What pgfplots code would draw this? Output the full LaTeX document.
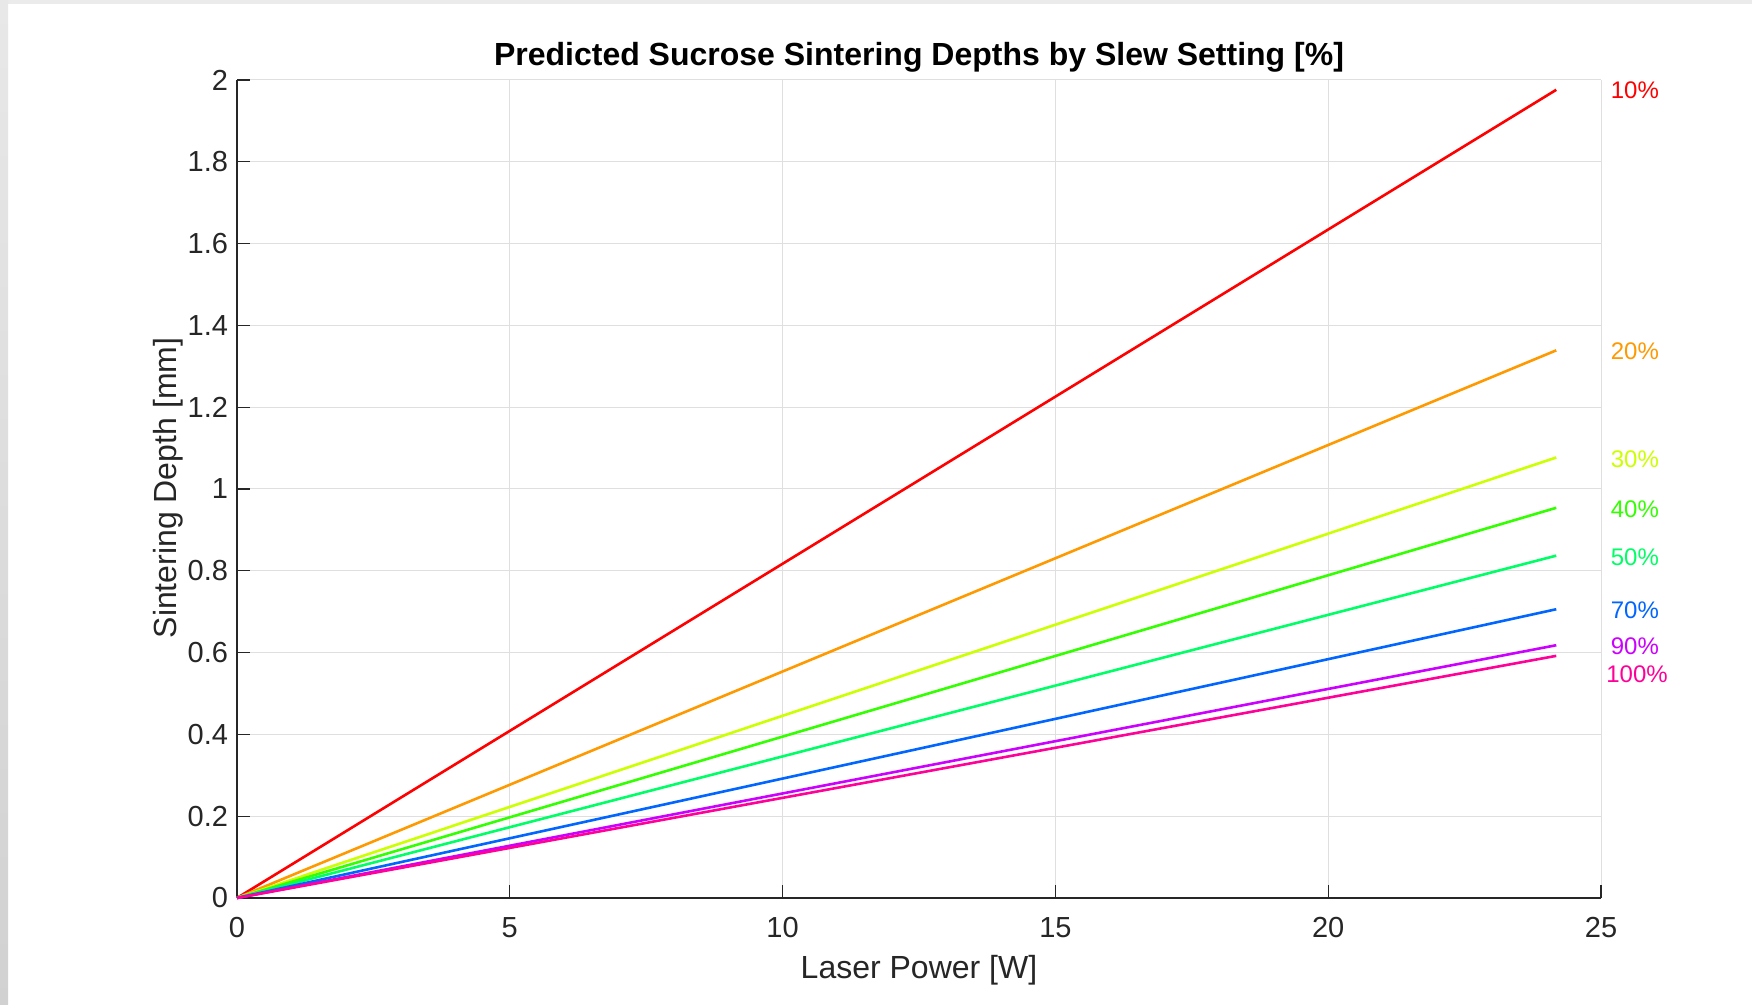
\documentclass[border=0pt]{standalone}
\usepackage{pgfplots}
\pgfplotsset{compat=1.18}
\usepackage{fontspec}
\setmainfont{Liberation Sans}
\definecolor{txt}{HTML}{262626}
\definecolor{gridc}{HTML}{DFDFDF}
\definecolor{c10}{HTML}{FF0000}
\definecolor{c20}{HTML}{FF9900}
\definecolor{c30}{HTML}{CCFF00}
\definecolor{c40}{HTML}{33FF00}
\definecolor{c50}{HTML}{00FF66}
\definecolor{c70}{HTML}{0066FF}
\definecolor{c90}{HTML}{CC00FF}
\definecolor{c100}{HTML}{FF0099}
\begin{document}
\begin{tikzpicture}
\useasboundingbox (0,0) rectangle (876pt,502.5pt);
\fill[white] (0,0) rectangle (876pt,502.5pt);
\fill[black!8] (0,500.5pt) rectangle (876pt,502.5pt);
\shade[top color=black!9, bottom color=black!18] (0,0) rectangle (4pt,502.5pt);
\begin{axis}[
  at={(118.5pt,53.5pt)}, anchor=south west,
  scale only axis, width=682pt, height=409pt,
  xmin=0, xmax=25, ymin=0, ymax=2,
  xtick={0,5,10,15,20,25},
  ytick={0,0.2,0.4,0.6,0.8,1,1.2,1.4,1.6,1.8,2},
  yticklabels={0,0.2,0.4,0.6,0.8,1,1.2,1.4,1.6,1.8,2},
  xticklabels={0,5,10,15,20,25},
  axis x line*=bottom, axis y line*=left,
  axis line style={-, txt, line width=0.6pt},
  tick align=inside, major tick length=6.5pt,
  tick style={txt, line width=0.6pt},
  grid=major, major grid style={gridc, line width=0.5pt},
  ticklabel style={font=\fontsize{14.5}{17}\selectfont, text=txt},
  xticklabel style={anchor=center, yshift=-14.7pt},
  yticklabel style={anchor=east, inner sep=0pt, xshift=-4.3pt},
  clip=false,
]
\addplot[c10, line width=1.3pt] coordinates {(0,0) (24.18,1.976)};
\addplot[c20, line width=1.3pt] coordinates {(0,0) (24.18,1.339)};
\addplot[c30, line width=1.3pt] coordinates {(0,0) (24.18,1.077)};
\addplot[c40, line width=1.3pt] coordinates {(0,0) (24.18,0.954)};
\addplot[c50, line width=1.3pt] coordinates {(0,0) (24.18,0.837)};
\addplot[c70, line width=1.3pt] coordinates {(0,0) (24.18,0.706)};
\addplot[c90, line width=1.3pt] coordinates {(0,0) (24.18,0.618)};
\addplot[c100, line width=1.3pt] coordinates {(0,0) (24.18,0.592)};
\tikzset{lab/.style={font=\fontsize{12}{14}\selectfont, anchor=center}}
\node[lab, text=c10] at (axis cs:25.62,1.975) {10\%};
\node[lab, text=c20] at (axis cs:25.62,1.337) {20\%};
\node[lab, text=c30] at (axis cs:25.62,1.073) {30\%};
\node[lab, text=c40] at (axis cs:25.62,0.950) {40\%};
\node[lab, text=c50] at (axis cs:25.62,0.833) {50\%};
\node[lab, text=c70] at (axis cs:25.62,0.703) {70\%};
\node[lab, text=c90] at (axis cs:25.62,0.615) {90\%};
\node[lab, text=c100] at (axis cs:25.66,0.546) {100\%};
\end{axis}
\node[anchor=base, font=\fontsize{16}{19}\selectfont\bfseries] at (459.5pt,469.5pt) {Predicted Sucrose Sintering Depths by Slew Setting [\%]};
\node[anchor=base, font=\fontsize{16}{19}\selectfont, text=txt] at (459.5pt,13.1pt) {Laser Power [W]};
\node[anchor=base, rotate=90, font=\fontsize{16}{19}\selectfont, text=txt] at (88pt,258.5pt) {Sintering Depth [mm]};
\end{tikzpicture}
\end{document}
